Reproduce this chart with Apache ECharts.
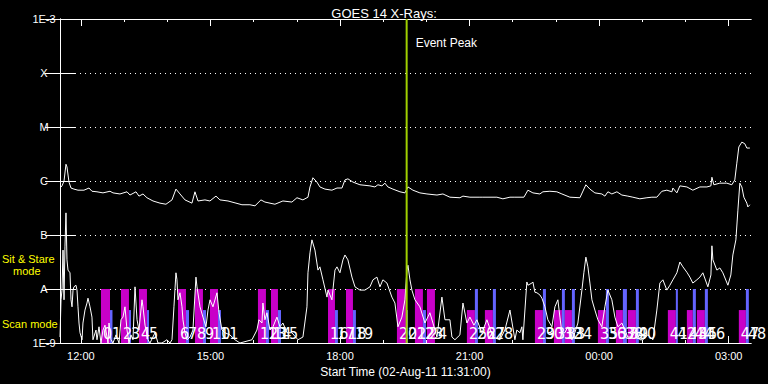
<!DOCTYPE html>
<html>
<head>
<meta charset="utf-8">
<script src="https://cdn.jsdelivr.net/npm/echarts@6/dist/echarts.min.js"></script>
<style>
html,body{margin:0;padding:0;background:#000;}
#chart{width:768px;height:384px;}
</style>
</head>
<body>
<div id="chart"></div>
<script>
// Time in minutes after the start time 02-Aug-11 11:31:00; levels are log10 of flux (W/m^2)
const majorTickMinutes = [29, 209, 389, 569, 749, 929];
const majorTickLabels = ['12:00', '15:00', '18:00', '21:00', '00:00', '03:00'];
const hourTickMinutes = [29, 89, 149, 209, 269, 329, 389, 449, 509, 569, 629, 689, 749, 809, 869, 929];
const levelTicks = [-9, -8, -7, -6, -5, -4, -3];
const levelLabels = ['1E-9', 'A', 'B', 'C', 'M', 'X', '1E-3'];

// GOES long channel (1-8 A)
const longTime = [0,2.8,5.6,8.3,9.7,12.5,15.3,19.4,25,33.3,40.3,44.4,51.4,59.7,69.5,73.6,83.3,93.1,97.2,105.6,109.7,115.3,120.8,129.2,138.9,147.2,155.6,161.1,166.7,173.6,183.3,187.5,191.7,201.4,208.3,216.7,222.2,233.4,244.5,252.8,263.9,270.9,279.2,284.7,298.6,309.7,322.2,329.2,337.5,344.5,347.3,351.4,356.9,361.1,368.1,377.8,384.8,391.7,395.9,400,407,416.7,430.6,437.5,441.7,447.3,451.4,455.6,462.5,472.3,479.2,483.4,490.3,500,509.8,523.7,532,541.7,555.6,559.8,569.5,583.4,587.5,607,615.3,625.1,632,644.5,650.1,657,666.7,670.9,680.6,690.3,697.3,708.4,722.3,730.6,736.2,743.1,752.8,757,761.2,766.7,773.7,780.6,788.9,795.9,805.6,815.4,822.3,829.2,836.2,843.1,850.1,851.5,857,861.2,870.9,879.2,889,898.7,904.3,905.7,908.4,916.7,926.4,933.4,937.5,940.3,943.1,947.3,951.4,954.2,958.4];
const longLevel = [-6.13,-6.09,-6.00,-5.69,-5.74,-6.02,-6.13,-6.15,-6.17,-6.17,
-6.13,-6.19,-6.20,-6.22,-6.19,-6.22,-6.24,-6.20,-6.26,-6.20,
-6.28,-6.24,-6.31,-6.37,-6.41,-6.43,-6.35,-6.15,-6.24,-6.35,
-6.41,-6.20,-6.37,-6.35,-6.37,-6.28,-6.35,-6.37,-6.41,-6.44,
-6.44,-6.46,-6.35,-6.39,-6.43,-6.37,-6.39,-6.31,-6.35,-6.30,
-6.11,-5.94,-6.02,-6.11,-6.15,-6.17,-6.13,-6.13,-5.98,-5.96,
-6.02,-6.07,-6.09,-6.11,-6.07,-6.09,-6.04,-6.11,-6.15,-6.20,
-6.22,-6.11,-6.17,-6.22,-6.24,-6.26,-6.24,-6.30,-6.31,-6.28,
-6.30,-6.30,-6.30,-6.30,-6.33,-6.30,-6.30,-6.30,-6.17,-6.22,
-6.24,-6.20,-6.19,-6.20,-6.24,-6.30,-6.31,-6.07,-6.15,-6.22,
-6.24,-6.28,-6.20,-6.24,-6.20,-6.26,-6.28,-6.30,-6.33,-6.31,
-6.30,-6.30,-6.19,-6.17,-6.20,-6.13,-6.22,-6.09,-6.11,-6.17,
-6.11,-6.11,-6.09,-5.93,-6.07,-6.04,-6.04,-6.07,-5.98,-5.67,
-5.37,-5.28,-5.31,-5.39,-5.39];

// GOES short channel (0.5-4 A)
const shortTime = [0,1.4,2.8,4.2,5.6,6.9,8.3,9.7,11.1,13.9,
15.3,16.7,18.1,19.4,22.2,23.6,25.0,26.4,27.8,30.6,
31.9,34.7,37.5,38.9,41.7,44.4,45.8,50.0,51.4,54.2,
56.9,59.7,62.5,65.3,66.7,68.1,70.8,73.6,77.8,82.0,
84.7,87.5,90.3,93.1,95.8,98.6,101.4,104.2,107.0,109.7,
113.9,115.3,118.1,122.2,125.0,132.0,136.1,141.7,148.6,152.8,
155.6,158.3,161.1,162.5,163.9,166.7,169.5,170.8,173.6,176.4,
180.6,184.7,188.9,190.3,194.5,198.6,202.8,205.6,208.4,212.5,
218.1,220.9,225.0,229.2,236.1,243.1,250.0,266.7,273.6,276.4,
280.6,281.9,284.7,287.5,291.7,295.9,301.4,305.6,309.7,315.3,
322.2,330.6,337.5,343.1,344.5,347.3,350.0,354.2,358.4,361.1,
365.3,370.9,372.3,377.8,382.0,384.8,388.9,393.1,395.9,400.0,
405.6,409.8,416.7,423.6,430.6,434.8,440.3,444.5,448.6,454.2,
461.1,465.3,469.5,475.0,479.2,482.0,483.4,486.2,488.9,493.1,
500.0,507.0,513.9,518.1,523.7,530.6,534.8,541.7,544.5,548.7,
555.6,559.8,565.3,569.5,575.1,579.2,586.2,593.1,601.4,611.2,
618.1,625.1,632.0,634.7,638.9,641.7,643.1,648.6,650.1,655.6,
657.0,659.8,662.6,666.7,669.5,673.7,677.8,683.4,687.6,691.7,
694.5,697.3,701.4,705.6,711.2,715.3,719.5,725.1,727.8,730.6,
733.4,736.2,739.0,743.1,747.3,752.8,757.0,761.2,766.7,770.9,
775.1,780.6,784.8,788.9,794.5,800.1,805.6,809.8,816.7,823.7,
829.2,833.4,837.6,843.1,847.3,851.5,857.0,861.2,865.4,870.9,
875.1,879.2,884.8,889.0,893.1,900.1,904.3,905.7,907.1,912.6,
916.7,920.9,927.9,932.0,934.8,939.0,941.8,944.5,947.3,950.1,
954.2,955.6,958.4];
const shortLevel = [-8.89,-8.20,-8.02,-7.28,-8.20,-7.22,-6.59,-7.46,-7.65,-7.70,
-8.20,-8.33,-8.02,-7.96,-7.93,-8.02,-8.33,-8.63,-8.81,-8.94,
-8.63,-8.39,-8.26,-8.17,-8.33,-8.52,-8.94,-8.76,-8.94,-8.70,
-9.00,-8.76,-8.67,-8.89,-9.00,-8.63,-8.94,-9.00,-8.85,-9.00,
-8.57,-8.52,-8.33,-8.76,-9.00,-8.85,-8.94,-7.96,-8.57,-8.76,
-8.20,-8.33,-8.67,-8.94,-9.00,-8.81,-9.00,-9.00,-8.94,-9.00,
-8.94,-8.33,-7.70,-7.83,-8.20,-8.07,-8.33,-8.57,-8.81,-8.94,
-8.89,-8.76,-7.78,-7.96,-8.33,-8.52,-8.70,-8.39,-8.20,-8.33,
-8.07,-8.44,-8.76,-8.81,-8.85,-8.94,-9.00,-8.94,-8.76,-8.57,
-8.63,-8.26,-8.57,-8.44,-8.76,-8.70,-8.52,-8.70,-8.63,-8.81,
-8.81,-8.94,-8.89,-8.33,-7.70,-7.33,-7.09,-7.28,-7.65,-7.59,
-7.83,-8.15,-8.02,-8.20,-7.65,-7.59,-7.70,-7.46,-7.37,-7.46,
-7.78,-7.96,-8.02,-8.02,-7.96,-7.83,-7.78,-7.96,-7.83,-7.89,
-8.15,-8.26,-8.70,-8.52,-8.20,-7.65,-7.56,-7.83,-8.02,-8.20,
-8.33,-8.63,-8.44,-8.63,-8.89,-8.15,-8.57,-8.57,-8.89,-8.94,
-8.85,-8.26,-8.63,-8.52,-8.67,-8.57,-8.81,-8.57,-8.89,-8.94,
-8.76,-8.39,-8.94,-8.76,-8.81,-8.70,-8.94,-7.87,-7.93,-7.89,
-7.87,-8.06,-8.07,-8.11,-8.17,-8.33,-8.57,-8.70,-8.33,-8.20,
-8.52,-8.81,-8.81,-8.70,-8.94,-8.81,-8.63,-8.02,-7.70,-7.41,
-7.59,-7.89,-8.20,-8.39,-8.57,-8.70,-8.33,-8.02,-8.20,-8.52,
-8.70,-8.63,-8.76,-8.89,-8.89,-8.76,-8.94,-8.94,-8.85,-8.94,
-8.39,-7.89,-7.83,-8.02,-7.93,-7.83,-7.70,-7.50,-7.59,-7.69,
-7.78,-7.89,-7.83,-7.78,-7.70,-7.96,-7.74,-7.20,-7.46,-7.65,
-7.61,-7.70,-7.93,-7.74,-7.37,-7.09,-6.54,-6.04,-6.11,-6.30,
-6.41,-6.48,-6.44];

// Observation windows
const obsStart = [56.9,69.5,84.7,95.8,109.7,120.8,163.9,175.0,187.5,198.6,208.4,219.5,275.0,286.1,293.1,302.8,372.3,382.0,397.3,407.0,468.1,480.6,493.1,504.2,509.8,565.3,576.4,590.3,601.4,659.8,670.9,686.2,697.3,701.4,711.2,747.3,758.4,772.3,782.0,788.9,800.1,844.5,855.6,870.9,879.2,884.8,895.9,943.1,952.9];
const obsEnd = [69.5,72.9,95.8,98.6,120.8,123.6,175.0,179.2,198.6,202.8,219.5,223.6,286.1,290.3,302.8,307.0,382.0,386.1,407.0,411.1,480.6,483.4,504.2,508.4,520.9,576.4,580.6,601.4,605.6,670.9,675.1,697.3,701.4,711.2,715.3,758.4,762.6,782.0,787.6,800.1,804.2,855.6,858.4,879.2,883.4,895.9,900.1,952.9,957.0];
const obsInstrument = ['M','B','M','B','M','B','M','B','M','B','M','B','M','B','M','B','M','B','M','B','M','B','M','B','M',
                       'M','B','M','B','M','B','M','B','M','B','M','B','M','B','M','B','M','B','M','B','M','B','M','B'];
const obsMode = ['sit','scan','sit','scan','sit','scan','sit','scan','sit','scan','sit','scan','sit','scan','sit','scan','sit','scan','sit','scan','sit','scan','sit','scan','sit',
                 'scan','sit','scan','sit','scan','sit','scan','sit','scan','sit','scan','sit','scan','sit','scan','sit','scan','sit','scan','sit','scan','sit','scan','sit'];
const obsLabel = ['0','1','2','3','4','5','6','7','8','9','10','11','12','13','14','15','16','17','18','19','20','21','22','23','24',
                  '25','26','27','28','29','30','31','32','33','34','35','36','37','38','39','40','41','42','43','44','45','46','47','48'];
const modeTopLevel = {sit: -8, scan: -8.39};
const eventPeakMinute = 481.6;

const instrumentColor = {M: '#c800c8', B: '#6464ff'};
const FONT = 'Liberation Sans, Arial, sans-serif';

const chart = echarts.init(document.getElementById('chart'), null, {renderer: 'svg'});

const longData = longTime.map((t, i) => [t, longLevel[i]]);
const shortData = shortTime.map((t, i) => [t, shortLevel[i]]);
const obsData = obsStart.map((s, i) => [s, obsEnd[i], modeTopLevel[obsMode[i]], obsInstrument[i] === 'M' ? 0 : 1, i]);

function xAxisDef(pos, ticks, len, labels) {
  return {
    type: 'value', position: pos, min: 0, max: 960,
    axisLine: {show: true, onZero: false, lineStyle: {color: '#fff', width: 1}},
    axisTick: {show: true, inside: true, length: len, customValues: ticks, lineStyle: {color: '#fff', width: 1}},
    axisLabel: labels ? {
      show: true, customValues: majorTickMinutes, color: '#fff', fontSize: 11, fontFamily: FONT, margin: 7,
      formatter: v => majorTickLabels[majorTickMinutes.indexOf(v)]
    } : {show: false},
    splitLine: {show: false}
  };
}

const xAxes = [
  Object.assign(xAxisDef('bottom', majorTickMinutes, 7, true), {
    name: 'Start Time (02-Aug-11 11:31:00)', nameLocation: 'middle', nameGap: 17,
    nameTextStyle: {color: '#fff', fontSize: 12, fontFamily: FONT}
  }),
  xAxisDef('bottom', hourTickMinutes, 3, false),
  xAxisDef('top', majorTickMinutes, 7, false),
  xAxisDef('top', hourTickMinutes, 3, false)
];

const option = {
  backgroundColor: '#000',
  animation: false,
  title: {
    text: 'GOES 14 X-Rays:', left: 'center', top: 2,
    textStyle: {color: '#fff', fontSize: 13, fontWeight: 'normal', fontFamily: FONT, letterSpacing: 1.5}
  },
  grid: {left: 60, right: 17, top: 19, bottom: 41, containLabel: false, outerBoundsMode: 'none'},
  xAxis: xAxes,
  yAxis: [
    {
      type: 'value', position: 'left', min: -9, max: -3, interval: 1,
      axisLine: {show: true, lineStyle: {color: '#fff', width: 1}},
      axisTick: {show: true, inside: true, length: 15, lineStyle: {color: '#fff', width: 1}},
      axisLabel: {
        show: true, color: '#fff', fontSize: 11, fontFamily: FONT, align: 'center', margin: 16,
        formatter: v => levelLabels[levelTicks.indexOf(Math.round(v))]
      },
      splitLine: {show: true, lineStyle: {color: '#fff', width: 1, type: [1, 4]}}
    },
    {
      type: 'value', position: 'right', min: -9, max: -3, interval: 1,
      axisLine: {show: true, lineStyle: {color: '#fff', width: 1}},
      axisTick: {show: true, inside: true, length: 15, lineStyle: {color: '#fff', width: 1}},
      axisLabel: {show: false},
      splitLine: {show: false}
    }
  ],
  graphic: [
    {type: 'text', left: 2, top: 253, style: {text: 'Sit & Stare', fill: '#ffff00', font: '11px ' + FONT, letterSpacing: 1.2}},
    {type: 'text', left: 13, top: 265, style: {text: 'mode', fill: '#ffff00', font: '11px ' + FONT}},
    {type: 'text', left: 2, top: 318, style: {text: 'Scan mode', fill: '#ffff00', font: '11px ' + FONT}}
  ],
  series: [
    {
      type: 'custom', name: 'observations', xAxisIndex: 0, yAxisIndex: 0,
      encode: {x: [0, 1], y: 2},
      data: obsData, silent: true, z: 1,
      renderItem: (params, api) => {
        const p0 = api.coord([api.value(0), api.value(2)]);
        const p1 = api.coord([api.value(1), -9]);
        return {
          type: 'rect',
          shape: {x: p0[0], y: p0[1], width: p1[0] - p0[0], height: p1[1] - p0[1]},
          style: {fill: api.value(3) === 0 ? instrumentColor.M : instrumentColor.B}
        };
      }
    },
    {
      type: 'line', name: 'GOES short', data: shortData, showSymbol: false, symbol: 'none',
      lineStyle: {color: '#fff', width: 1}, itemStyle: {color: '#fff'}, silent: true, z: 3, clip: true
    },
    {
      type: 'line', name: 'GOES long', data: longData, showSymbol: false, symbol: 'none',
      lineStyle: {color: '#fff', width: 1}, itemStyle: {color: '#fff'}, silent: true, z: 3, clip: true
    },
    {
      type: 'custom', name: 'numbers', encode: {x: 0, y: 2},
      data: obsData, silent: true, z: 4,
      renderItem: (params, api) => {
        const p = api.coord([api.value(0), -9]);
        return {
          type: 'text', x: p[0] + 2, y: p[1] - 2,
          style: {
            text: obsLabel[api.value(4)], fill: '#fff',
            font: '16px "Liberation Sans Narrow", "DejaVu Sans Condensed", sans-serif',
            align: 'left', verticalAlign: 'bottom'
          }
        };
      }
    },
    {
      type: 'custom', name: 'event', encode: {x: 0},
      data: [[eventPeakMinute]], silent: true, z: 5,
      renderItem: (params, api) => {
        const t = api.coord([api.value(0), -3]);
        const b = api.coord([api.value(0), -9]);
        return {
          type: 'group',
          children: [
            {type: 'line', shape: {x1: t[0], y1: t[1], x2: b[0], y2: b[1]}, style: {stroke: '#a0d000', lineWidth: 2}},
            {type: 'text', x: t[0] + 9, y: t[1] + 24, style: {text: 'Event Peak', fill: '#fff', font: '12px ' + FONT, align: 'left', verticalAlign: 'middle'}}
          ]
        };
      }
    }
  ]
};
chart.setOption(option);
</script>
</body>
</html>
